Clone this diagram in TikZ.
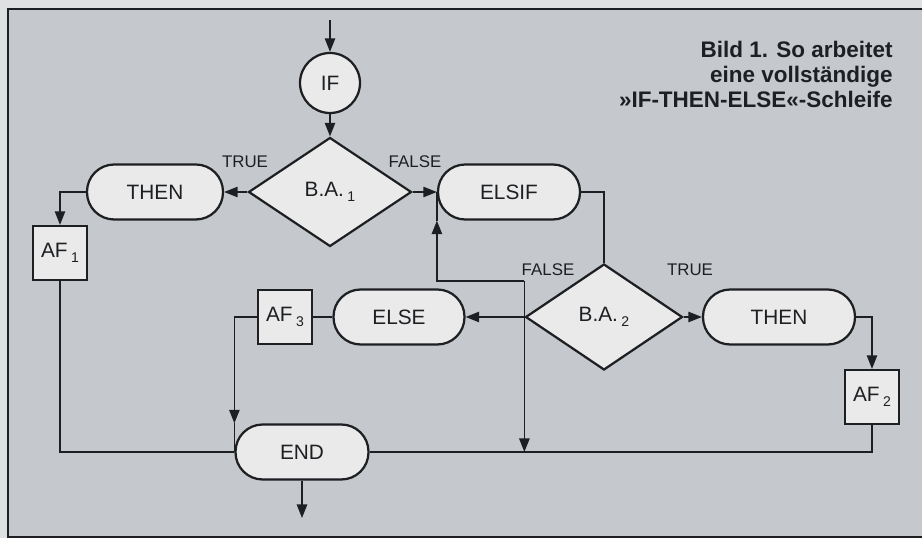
\documentclass[tikz,border=0pt]{standalone}
\usepackage{fontspec}
\setmainfont{Liberation Sans}
\usetikzlibrary{shapes.geometric,arrows.meta}
\definecolor{PanelGray}{HTML}{C5C9CD}
\definecolor{PaperWhite}{HTML}{DEE0E1}
\definecolor{BoxFill}{HTML}{E9EAE9}
\definecolor{InkDark}{HTML}{1E1F23}
\newcommand{\subidx}[1]{\,\raisebox{-0.45ex}{\fontsize{10}{10}\selectfont #1}}

\begin{document}
\begin{tikzpicture}[x=1cm,y=1cm,
  every node/.style={text=InkDark},
  box/.style={draw=InkDark,fill=BoxFill,line width=1.6pt,inner sep=0pt,font=\fontsize{14.8}{17}\selectfont},
  term/.style={box,rectangle,rounded corners=0.68cm,minimum height=1.375cm},
  cond/.style={box,diamond,minimum width=4.075cm,minimum height=2.725cm},
  circ/.style={box,circle,minimum size=1.5cm},
  act/.style={box,rectangle,minimum width=1.35cm,minimum height=1.35cm},
  lbl/.style={inner sep=0pt,font=\fontsize{12}{14}\selectfont},
  arr/.style={draw=InkDark,line width=1.1pt,-{Triangle[length=3.4mm,width=2.6mm]}},
  wire/.style={draw=InkDark,line width=1.1pt}]
\path[use as bounding box] (0,0) rectangle (23.05,13.45);
\fill[PaperWhite] (0,0) rectangle (23.05,13.45);
\fill[PanelGray] (0.2,0.025) rectangle (23.05,13.225);
\draw[InkDark,line width=2pt] (23.05,13.225) -- (0.2,13.225) -- (0.2,0.025) -- (23.05,0.025);
% title
\node[anchor=north east,align=right,inner sep=0pt,font=\bfseries\fontsize{16}{17.7}\selectfont] (caption) at (22.325,12.42)
  {Bild 1. So arbeitet\\eine vollständige\\»IF-THEN-ELSE«-Schleife};
% nodes
\coordinate (start) at (8.25,12.95);
\node[circ] (if) at (8.25,11.375) {IF};
\node[cond] (ba1) at (8.25,8.65) {B.A.\subidx{1}};
\node[term,minimum width=3.4cm] (then1) at (3.875,8.65) {THEN};
\node[act] (af1) at (1.5,7.125) {AF\subidx{1}};
\node[term,minimum width=3.55cm] (elsif) at (12.725,8.65) {ELSIF};
\node[cond,minimum width=3.925cm,minimum height=2.65cm] (ba2) at (15.1,5.525) {B.A.\subidx{2}};
\node[term,minimum width=3.8cm] (then2) at (19.475,5.525) {THEN};
\node[act] (af2) at (21.8,3.525) {AF\subidx{2}};
\node[term,minimum width=3.275cm] (else) at (9.975,5.525) {ELSE};
\node[act] (af3) at (7.125,5.525) {AF\subidx{3}};
\node[term,minimum width=3.325cm] (theend) at (7.55,2.15) {END};
\coordinate (stop) at (7.55,0.5);
\coordinate (loop) at ([yshift=0.9cm]ba2.west);
% labels
\node[lbl] (true1) at (6.125,9.4) {TRUE};
\node[lbl] (false1) at (10.375,9.4) {FALSE};
\node[lbl] (false2) at (13.7,6.7) {FALSE};
\node[lbl] (true2) at (17.25,6.7) {TRUE};
% connectors
\draw[arr] (start) -- (if);
\draw[arr] (if) -- (ba1);
\draw[arr] (ba1) -- (then1);
\draw[arr] (ba1) -- (elsif);
\draw[arr] (then1.west) -| (af1.north);
\draw[wire] (af1.south) |- (theend.west);
\draw[wire] (elsif.east) -| (ba2.north);
\draw[arr] (ba2) -- (then2);
\draw[arr] (ba2) -- (else);
\draw[arr] (then2.east) -| (af2.north);
\draw[wire] (af2.south) |- (theend.east);
\draw[wire] (else) -- (af3);
\draw[arr] (af3.west) -| (theend.north west);
\draw[wire] (theend.north west) -- (theend.west);
\draw[arr] (loop) -- (loop |- theend.east);
\draw[arr] (loop) -| (elsif.south west);
\draw[wire] (elsif.south west) -- (elsif.west);
\draw[arr] (theend) -- (stop);
\end{tikzpicture}
\end{document}
